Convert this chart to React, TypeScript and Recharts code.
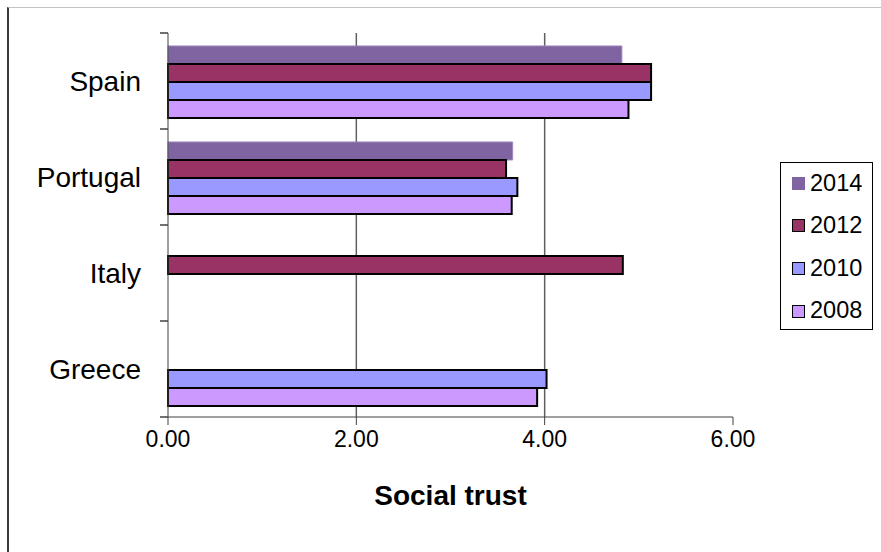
import { BarChart, Bar, XAxis, YAxis, CartesianGrid } from 'recharts'

const countries = ['Spain', 'Portugal', 'Italy', 'Greece']
const years = ['2014', '2012', '2010', '2008']
const trust2014 = [4.82, 3.66, null, null]
const trust2012 = [5.13, 3.59, 4.83, null]
const trust2010 = [5.13, 3.71, null, 4.02]
const trust2008 = [4.89, 3.65, null, 3.92]
const xTicks = [0, 2, 4, 6]
const gridValues = [2, 4]

const fills = ['#8064A2', '#993366', '#9999FF', '#CC99FF']
const strokes = ['#9E88BE', '#000000', '#000000', '#000000']
const strokeWidths = [1, 2, 2, 2]

const data = countries.map((name, i) => ({
  name,
  '2014': trust2014[i],
  '2012': trust2012[i],
  '2010': trust2010[i],
  '2008': trust2008[i],
}))

const FONT = '"Liberation Sans", Arial, sans-serif'
const HALF_BAND = 48

function CountryTick(props: any) {
  const { x, y, payload, index } = props
  return (
    <g>
      <line x1={x - 8} x2={x} y1={y - HALF_BAND} y2={y - HALF_BAND} stroke="#404040" strokeWidth={1.5} />
      {index === countries.length - 1 && (
        <line x1={x - 8} x2={x} y1={y + HALF_BAND} y2={y + HALF_BAND} stroke="#404040" strokeWidth={1.5} />
      )}
      <text x={x - 27} y={y} textAnchor="end" dominantBaseline="central" fontSize={28} fill="#000" fontFamily={FONT}>
        {payload.value}
      </text>
    </g>
  )
}

function YearLegend() {
  return (
    <div
      style={{
        position: 'absolute',
        left: 780,
        top: 162,
        border: '1px solid #000',
        width: 93,
        height: 168,
        boxSizing: 'border-box',
        background: '#fff',
        fontFamily: FONT,
        fontSize: 23.5,
      }}
    >
      <div style={{ marginTop: -1 }}>
        {years.map((yr, i) => (
          <div key={yr} style={{ display: 'flex', alignItems: 'center', height: 42.6, paddingLeft: 11 }}>
            <span
              style={{
                display: 'inline-block',
                width: 13,
                height: 13,
                boxSizing: 'border-box',
                background: fills[i],
                border: i === 0 ? 'none' : '1.5px solid #000',
                marginRight: 5,
              }}
            />
            <span style={{ lineHeight: 1 }}>{yr}</span>
          </div>
        ))}
      </div>
    </div>
  )
}

export default function App() {
  return (
    <div style={{ position: 'absolute', left: 0, top: 0, width: 881, height: 552, background: '#fff' }}>
      <div
        style={{
          position: 'absolute',
          left: 7,
          top: 7,
          right: 0,
          bottom: 0,
          borderTop: '1px solid #c4c4c4',
          borderLeft: '2px solid #3a3a3a',
        }}
      />
      <div style={{ position: 'absolute', left: 0, top: 0 }}>
        <BarChart
          width={881}
          height={552}
          data={data}
          layout="vertical"
          margin={{ top: 33, right: 148, left: 0, bottom: 0 }}
          barCategoryGap="13.5%"
          barGap={0}
        >
          <CartesianGrid horizontal={false} verticalValues={gridValues} stroke="#606060" strokeWidth={1.5} />
          <XAxis
            type="number"
            domain={[0, 6]}
            ticks={xTicks}
            tickFormatter={(v: number) => v.toFixed(2)}
            height={135}
            stroke="#404040"
            tickSize={8}
            tickMargin={6}
            tick={{ fill: '#000', fontSize: 23, fontFamily: FONT }}
            label={({ viewBox }: any) => (
              <text
                x={viewBox.x + viewBox.width / 2}
                y={viewBox.y + 88}
                textAnchor="middle"
                fontSize={28}
                fontWeight="bold"
                fontFamily={FONT}
                fill="#000"
              >
                Social trust
              </text>
            )}
          />
          <YAxis
            type="category"
            dataKey="name"
            width={168}
            stroke="#404040"
            tickLine={false}
            tickSize={0}
            tickMargin={0}
            tick={<CountryTick />}
            interval={0}
          />
          {years.map((yr, i) => (
            <Bar
              key={yr}
              dataKey={yr}
              fill={fills[i]}
              stroke={strokes[i]}
              strokeWidth={strokeWidths[i]}
              isAnimationActive={false}
            />
          ))}
        </BarChart>
      </div>
      <YearLegend />
    </div>
  )
}
